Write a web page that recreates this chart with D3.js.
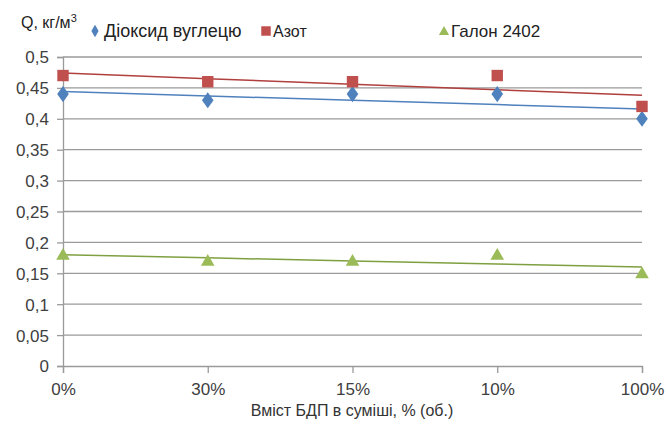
<!DOCTYPE html>
<html><head><meta charset="utf-8">
<script src="https://cdn.jsdelivr.net/npm/d3@7"></script>
<style>body{margin:0;background:#fff}svg{display:block;font-family:"Liberation Sans",Arial,sans-serif}</style>
</head><body>
<svg id="c" width="667" height="436"></svg>
<script>
const categories = ["0%", "30%", "15%", "10%", "100%"];
const co2 = [0.44, 0.43, 0.44, 0.44, 0.40];
const nitrogen = [0.47, 0.46, 0.46, 0.47, 0.42];
const halon = [0.18, 0.17, 0.17, 0.18, 0.15];
const yTicks = [0, 0.05, 0.1, 0.15, 0.2, 0.25, 0.3, 0.35, 0.4, 0.45, 0.5];
const seriesNames = ["Діоксид вуглецю", "Азот", "Галон 2402"];

const svg = d3.select("#c");
const x = d3.scalePoint().domain(categories).range([63, 642]);
const y = d3.scaleLinear().domain([0, 0.5]).range([366, 57]);
const fmt = d => String(+d.toFixed(2)).replace(".", ",");

// grid
svg.append("g").selectAll("line").data(yTicks.filter(d => d > 0)).join("line")
  .attr("x1", 63).attr("x2", 642).attr("y1", d => y(d)).attr("y2", d => y(d))
  .attr("stroke", "#9a9a9a").attr("stroke-width", 1.3);

const yAxis = svg.append("g").attr("transform", "translate(63,0)")
  .call(d3.axisLeft(y).tickValues(yTicks).tickFormat(fmt).tickSize(6).tickPadding(8));
const xAxis = svg.append("g").attr("transform", "translate(0,366)")
  .call(d3.axisBottom(x).tickSize(7).tickPadding(10));
[yAxis, xAxis].forEach(a => {
  a.select(".domain").attr("stroke", "#9a9a9a").attr("stroke-width", 1.3);
  a.selectAll(".tick line").attr("stroke", "#9a9a9a").attr("stroke-width", 1.3);
  a.selectAll("text").attr("font-size", 17).attr("fill", "#404040")
   .attr("font-family", "Liberation Sans, Arial, sans-serif");
});
yAxis.selectAll("text").attr("dy", "0.35em");

const series = [
  {name: seriesNames[0], vals: co2, color: "#4F81BD", trend: "#4F81BD", sym: d3.symbolDiamond, size: 75},
  {name: seriesNames[1], vals: nitrogen, color: "#C0504D", trend: "#B0403D", sym: d3.symbolSquare, size: 130},
  {name: seriesNames[2], vals: halon, color: "#9BBB59", trend: "#7FA040", sym: d3.symbolTriangle, size: 80}
];

function regress(vals) {
  const xs = vals.map((_, i) => i + 1);
  const mx = d3.mean(xs), my = d3.mean(vals);
  const b = d3.sum(xs, (xi, i) => (xi - mx) * (vals[i] - my)) / d3.sum(xs, xi => (xi - mx) ** 2);
  return xs.map(xi => my + b * (xi - mx));
}

series.forEach(s => {
  const tr = regress(s.vals);
  const line = d3.line().x((d, i) => x(categories[i])).y(d => y(d));
  svg.append("path").datum(tr).attr("d", line).attr("fill", "none")
    .attr("stroke", s.trend).attr("stroke-width", 1.5);
});
series.forEach(s => {
  const sym = d3.symbol().type(s.sym).size(s.size);
  svg.append("g").selectAll("path").data(s.vals).join("path")
    .attr("d", sym)
    .attr("transform", (d, i) => s.sym === d3.symbolDiamond
      ? `translate(${x(categories[i])},${y(d)}) scale(1.25,1)`
      : `translate(${x(categories[i])},${y(d) + (s.sym === d3.symbolTriangle ? 1 : 0)})`)
    .attr("fill", s.color);
});

// title
const t = svg.append("text").attr("x", 21).attr("y", 28).attr("font-size", 16).attr("fill", "#222");
t.append("tspan").text("Q, кг/м");
t.append("tspan").attr("font-size", 11).attr("dy", -6).text("3");

// legend
const leg = [
  {x: 95, tx: 104, fs: 18},
  {x: 266, tx: 273, fs: 16},
  {x: 444, tx: 451, fs: 17}
];
series.forEach((s, i) => {
  const L = leg[i];
  svg.append("path").attr("d", d3.symbol().type(s.sym).size(i === 1 ? 90 : 45)())
    .attr("transform", `translate(${L.x},${i === 2 ? 32 : 31})`).attr("fill", s.color);
  svg.append("text").attr("x", L.tx).attr("y", 37).attr("font-size", L.fs)
    .attr("fill", "#222").text(s.name);
});

svg.append("text").attr("x", 352).attr("y", 416).attr("text-anchor", "middle")
  .attr("font-size", 16).attr("fill", "#333").text("Вміст БДП в суміші, % (об.)");
</script>
</body></html>
